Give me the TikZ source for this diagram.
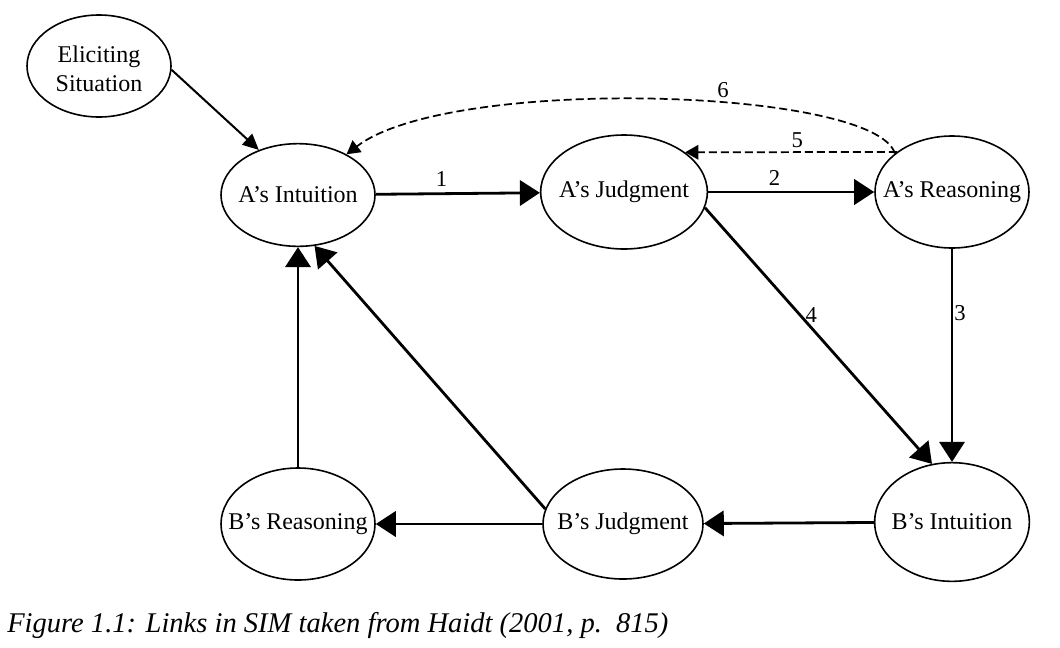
\documentclass[tikz,border=0pt]{standalone}
\usepackage{fontspec}
\setmainfont{Liberation Serif}
\usetikzlibrary{arrows.meta}
\usetikzlibrary{shapes}
\newcommand{\inell}[1]{\makebox[0pt]{#1}}

\begin{document}
\begin{tikzpicture}[x=0.75pt,y=0.75pt,yscale=-1,xscale=1,
  state/.style={draw, ellipse, line width=1.2pt, minimum width=115.5pt, minimum height=84pt, inner sep=0pt, font=\fontsize{18}{22}\selectfont},
  link/.style={line width=2.1pt, -{Triangle[length=15pt,width=19pt]}},
  back/.style={line width=1.3pt, dash pattern={on 6pt off 3pt}, -{Triangle[length=10pt,width=11pt]}},
  num/.style={font=\fontsize{17}{20}\selectfont, inner sep=1pt}]
\useasboundingbox (0,0) rectangle (1060,647);

%Shapes: Ellipses
\node[state, minimum width=108pt, minimum height=76.5pt] (elic) at (99,66) {\inell{\raisebox{-8pt}[0pt][0pt]{\begin{tabular}{@{}c@{}}Eliciting\\Situation\end{tabular}}}};
\node[state, minimum height=77pt] (aint) at (298,195) {\inell{A's Intuition}};
\node[state, minimum width=125pt, minimum height=85.5pt] (ajud) at (624,192) {\inell{A's Judgment}};
\node[state] (area) at (952,192) {\inell{A's Reasoning}};
\node[state] (brea) at (298,524) {\inell{B's Reasoning}};
\node[state, minimum width=120pt, minimum height=82.5pt] (bjud) at (623,524) {\inell{B's Judgment}};
\node[state, minimum width=116pt, minimum height=89pt] (bint) at (952,522) {\inell{B's Intuition}};

%Straight Lines
\draw[line width=1.5pt, -{Triangle[length=12pt,width=11pt]}] (elic.-3) -- (aint.131);
\draw[link] (aint) -- node[num, above=3pt, pos=0.4] {1} (ajud);
\draw[link] (ajud) -- node[num, above=3pt, pos=0.4] {2} (area);
\draw[link, line width=1.7pt] (area) -- node[num, right, pos=0.3] {3} (bint);
\draw[link] (ajud.-11) -- node[num, right=2pt, pos=0.42] {4} (bint.109);
\draw[link] (bint) -- (bjud);
\draw[link] (bjud) -- (brea);
\draw[link] (brea) -- (aint);
\draw[link] (bjud.169) -- (aint.-72);

%Dashed Lines
\draw[back] (area.144) -- node[num, above=2pt, pos=0.47] {5} (ajud.33);
\draw[back] (area.146) .. controls (875,88) and (450,75) .. (aint.40) node[num, above=2pt, pos=0.4] {6};

% Text Node
\node[anchor=base west, inner sep=0pt, font=\fontsize{21.4}{24}\selectfont\itshape] (cap) at (7,632) {Figure 1.1: Links in SIM taken from Haidt (2001, p.\ \ 815)};

\end{tikzpicture}
\end{document}
